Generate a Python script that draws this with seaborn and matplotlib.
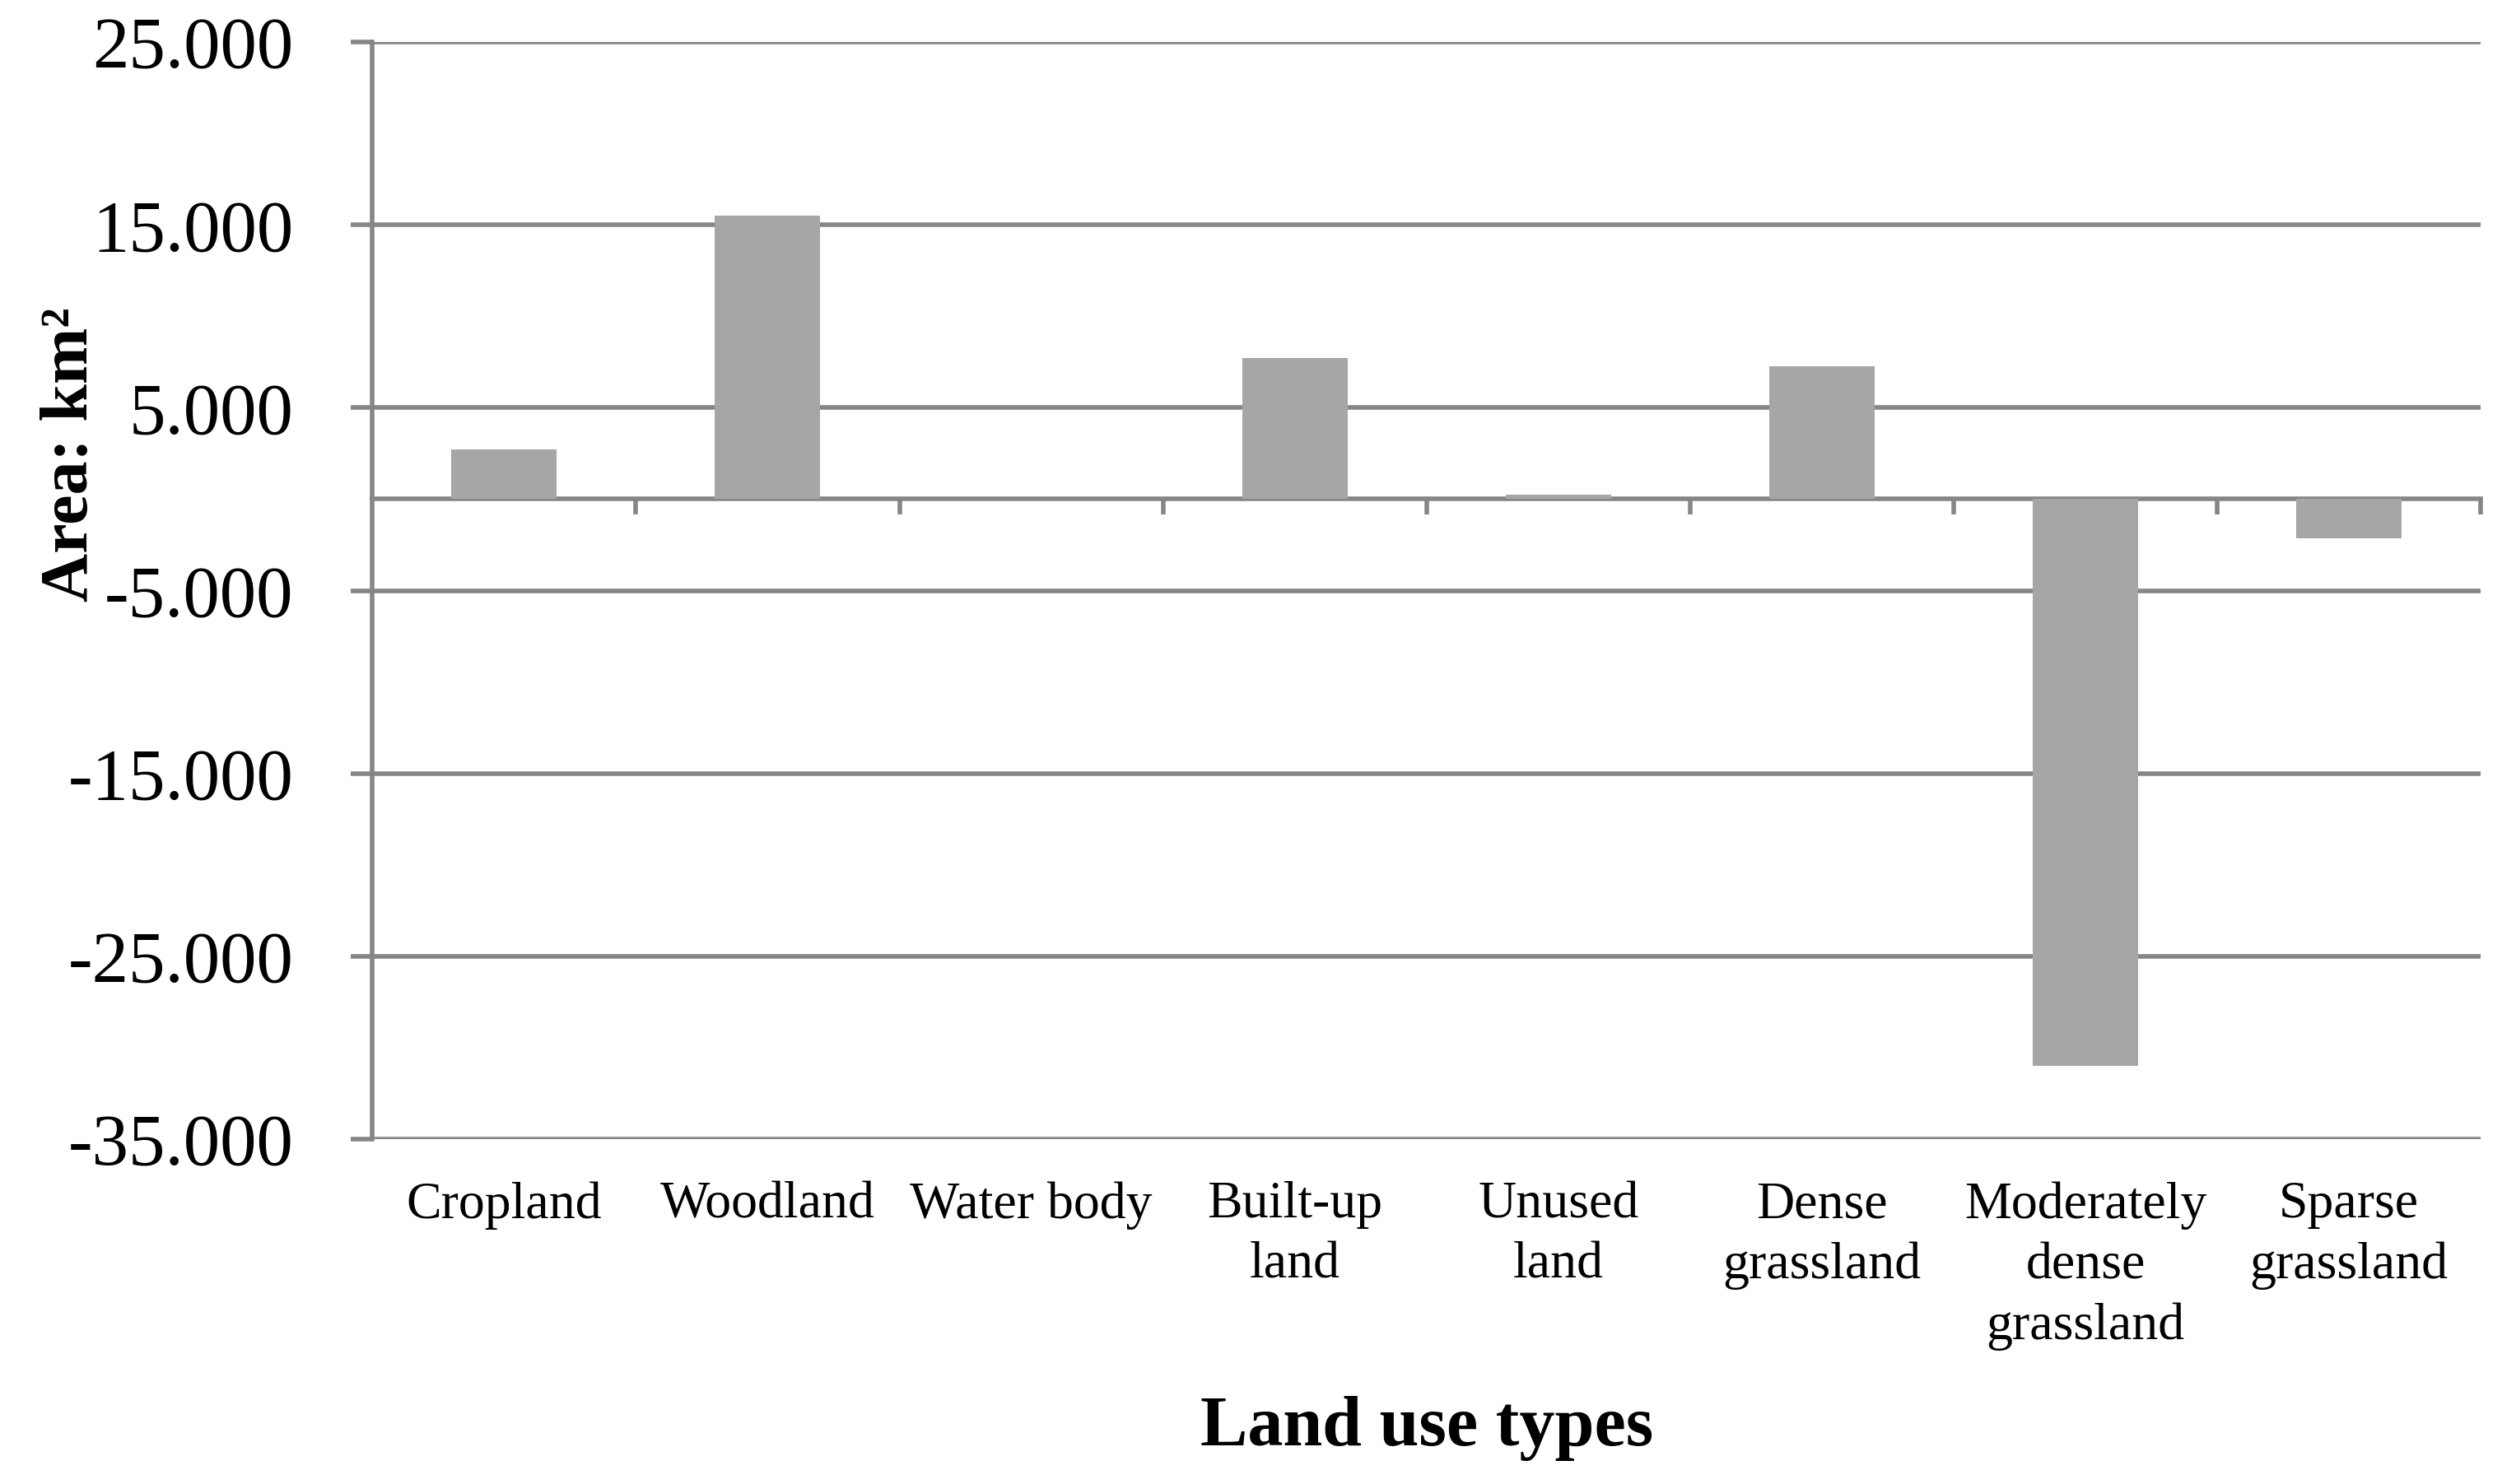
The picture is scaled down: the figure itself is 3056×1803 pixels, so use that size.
import matplotlib
matplotlib.use("Agg")
import matplotlib.pyplot as plt
import seaborn as sns
import pandas as pd
from matplotlib.ticker import FuncFormatter, FixedLocator

categories = ["Cropland", "Woodland", "Water body", "Built-up\nland", "Unused\nland",
              "Dense\ngrassland", "Moderately\ndense\ngrassland", "Sparse\ngrassland"]
values = [2700, 15500, 40, 7700, 250, 7250, -31000, -2150]
y_ticks = [-35000, -25000, -15000, -5000, 5000, 15000, 25000]

sns.set_theme(style="white")
plt.rcParams['font.family'] = ['Liberation Serif', 'DejaVu Serif']

GRAY = '#868686'
LW = 4.0

fig = plt.figure(figsize=(30.56, 18.03), dpi=100)
ax = fig.add_axes([0.148, 0.2324, 0.838, 0.7393])
df = pd.DataFrame({"cat": categories, "val": values})
sns.barplot(data=df, x="cat", y="val", color="#A6A6A6", width=0.4, saturation=1,
            ax=ax, edgecolor="none", linewidth=0)
ax.set_ylim(-35000, 25000)
ax.set_xlim(-0.5, 7.5)
ax.yaxis.set_major_locator(FixedLocator(y_ticks))
ax.yaxis.set_major_formatter(FuncFormatter(lambda v, p: f"{v:,.0f}".replace(",", ".")))
ax.grid(axis='y', color=GRAY, linewidth=LW)
ax.grid(axis='x', visible=False)
ax.set_axisbelow(True)
for s in ['top', 'right', 'bottom']:
    ax.spines[s].set_visible(False)
ax.spines['left'].set_color(GRAY)
ax.spines['left'].set_linewidth(LW)
ax.tick_params(axis='y', direction='out', length=19, width=LW, color=GRAY, pad=50,
               labelsize=64, labelcolor='black', left=True)
ax.tick_params(axis='x', length=0, pad=37, labelsize=46, labelcolor='black')
for lbl in ax.get_xticklabels():
    lbl.set_multialignment('center')
    lbl.set_linespacing(1.35)

# category axis crossing at zero
sec = ax.secondary_xaxis(35 / 60)
sec.set_alignment('bottom')
sec.set_xticks([k + 0.5 for k in range(0, 8)])
sec.set_xticklabels([])
sec.tick_params(direction='out', length=14, width=LW, color=GRAY)
sec.spines['bottom'].set_color(GRAY)
sec.spines['bottom'].set_linewidth(LW)

ax.set_xlabel("Land use types", fontsize=62, fontweight='bold', color='black')
ax.xaxis.set_label_coords(0.5, -0.234)
ax.set_ylabel("Area: km²", fontsize=59, fontweight='bold', color='black')
ax.yaxis.set_label_coords(-0.128, 0.624)

fig.savefig("out.png", dpi=100, facecolor='white')
